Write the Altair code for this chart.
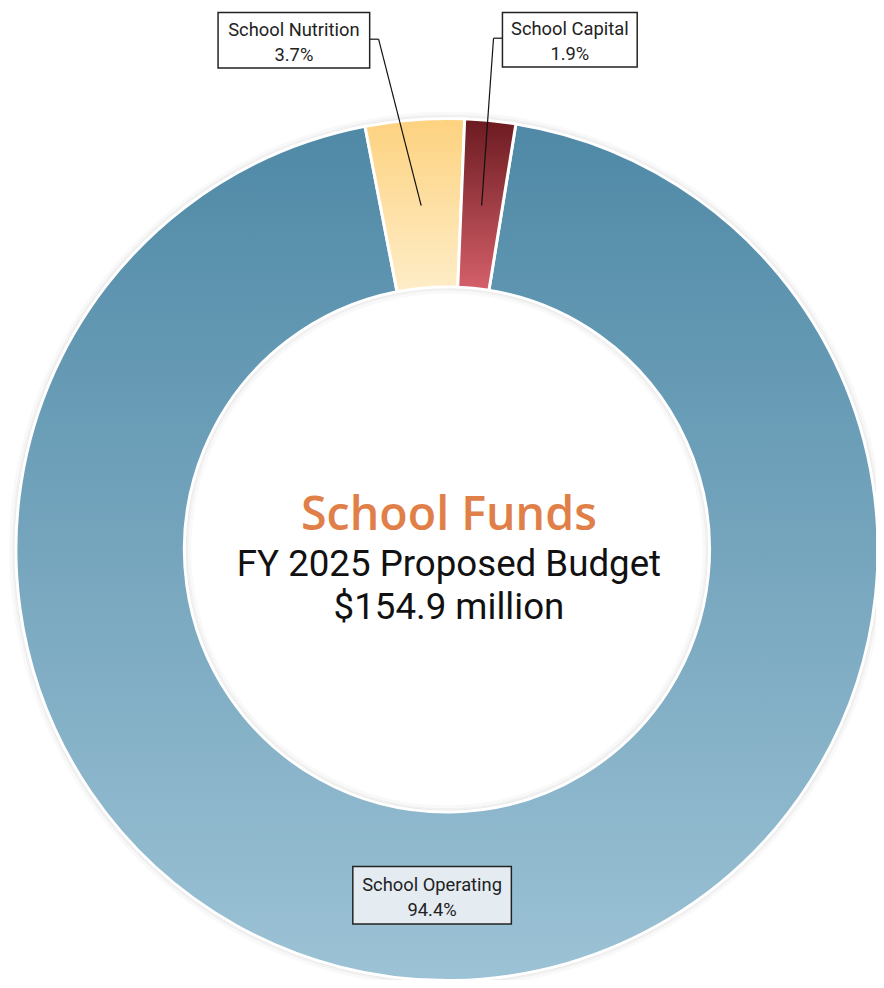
import math
import altair as alt
import pandas as pd

# ---- data ----
categories = ["School Operating", "School Nutrition", "School Capital"]
shares = [94.4, 3.7, 1.9]
pct_labels = ["94.4%", "3.7%", "1.9%"]
order = [0, 1, 2]
center_lines = ["School Funds", "FY 2025 Proposed Budget", "$154.9 million"]

df = pd.DataFrame({"category": categories, "share": shares, "pct": pct_labels, "order": order})

# ---- layout / style (chart coords = page coords - 8) ----
CX, CY = 443, 542
R_OUT, R_IN = 435, 265
START = math.radians(9.2)
FONT = "Roboto"

gradients = {
    "School Operating": ("#4f89a6", "#9cc2d5"),
    "School Nutrition": ("#fdd27f", "#feedc8"),
    "School Capital": ("#6b1a20", "#d5606a"),
}

theta_scale = alt.Scale(domain=[0, 100], range=[START, START + 2 * math.pi])

base = alt.Chart(df).transform_window(
    cum="sum(share)", sort=[alt.SortField("order")], frame=[None, 0]
).transform_calculate(start="datum.cum - datum.share")

layers = []

# soft shadow rings behind the donut
for d, op in [(7, 0.025), (4, 0.03), (2, 0.04)]:
    layers.append(
        alt.Chart(alt.Data(values=[{"a": 1}])).mark_arc(
            theta=0, theta2=2 * math.pi, radius=R_OUT + d, radius2=R_IN - d,
            fill="#000000", opacity=op
        ).encode(x=alt.value(CX), y=alt.value(CY))
    )

for cat in categories:
    top, bottom = gradients[cat]
    grad = alt.Gradient(
        gradient="linear",
        stops=[alt.GradientStop(offset=0, color=top), alt.GradientStop(offset=1, color=bottom)],
        x1=0, x2=0, y1=0, y2=1,
    )
    arc = base.transform_filter(alt.datum.category == cat).mark_arc(
        radius=R_OUT, radius2=R_IN, fill=grad, stroke="white", strokeWidth=3
    ).encode(
        theta=alt.Theta("start:Q", scale=theta_scale),
        theta2="cum:Q",
        x=alt.value(CX),
        y=alt.value(CY),
    )
    layers.append(arc)

# label boxes: (x1, y1, x2, y2, fill) in chart coords
boxes = {
    "School Nutrition": (212, -1, 365, 56, "white"),
    "School Capital": (499, -2, 635, 55, "white"),
    "School Operating": (348, 862, 508, 920, "#e4ecf2"),
}
leaders = {
    "School Nutrition": [(365, 27, 374, 27), (374, 27, 417, 195)],
    "School Capital": [(499, 26, 490, 26), (490, 26, 478, 195)],
}

for cat, segs in leaders.items():
    for (x1, y1, x2, y2) in segs:
        layers.append(
            alt.Chart(alt.Data(values=[{"a": 1}])).mark_rule(color="#111111", strokeWidth=1.2).encode(
                x=alt.value(x1), y=alt.value(y1), x2=alt.value(x2), y2=alt.value(y2)
            )
        )

for cat in categories:
    x1, y1, x2, y2, fill = boxes[cat]
    layers.append(
        alt.Chart(alt.Data(values=[{"a": 1}])).mark_rect(
            fill=fill, stroke="#222222", strokeWidth=1.5
        ).encode(x=alt.value(x1), x2=alt.value(x2), y=alt.value(max(y1, 0)), y2=alt.value(y2))
    )
    cx = (x1 + x2) / 2
    layers.append(
        base.transform_filter(alt.datum.category == cat).mark_text(
            font=FONT, fontSize=18.5, color="#222222", baseline="alphabetic", align="center"
        ).encode(x=alt.value(cx), y=alt.value(y1 + 25), text="category:N")
    )
    layers.append(
        base.transform_filter(alt.datum.category == cat).mark_text(
            font=FONT, fontSize=18.5, color="#222222", baseline="alphabetic", align="center"
        ).encode(x=alt.value(cx), y=alt.value(y1 + 50), text="pct:N")
    )

# center text: (baseline y in chart coords, size, colour, weight, font)
center_styles = [
    (522, 47, "#e08048", 600, "Open Sans"),
    (569, 37, "#111111", 400, FONT),
    (612, 37, "#111111", 400, FONT),
]
for line, (yy, fs, col, fw, fnt) in zip(center_lines, center_styles):
    layers.append(
        alt.Chart(alt.Data(values=[{"t": line}])).mark_text(
            font=fnt, fontSize=fs, color=col, fontWeight=fw, baseline="alphabetic", align="center"
        ).encode(x=alt.value(CX + 2), y=alt.value(yy), text="t:N")
    )

chart = alt.layer(*layers).properties(
    width=876, height=972, autosize="none", padding=0
).configure_view(stroke=None)

chart.save("out.html", embed_options={"renderer": "svg", "actions": False})
